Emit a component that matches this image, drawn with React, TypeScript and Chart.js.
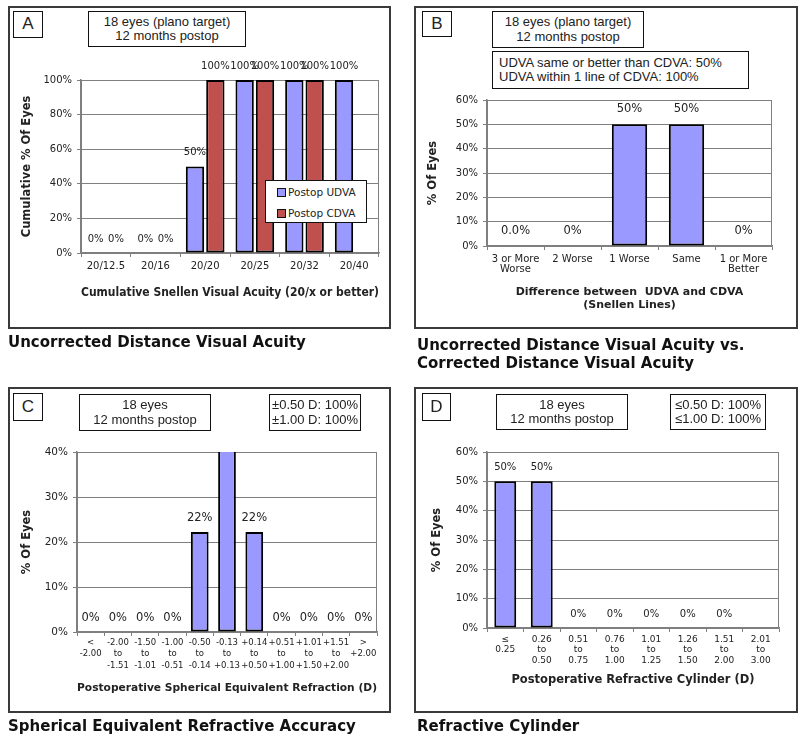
import React, { useEffect, useRef } from "react";
import { Chart, registerables } from "chart.js";
Chart.register(...registerables);

// ---------- DATA ----------
const aCategories = ["20/12.5", "20/16", "20/20", "20/25", "20/32", "20/40"];
const aUdva = [0, 0, 50, 100, 100, 100];
const aCdva = [0, 0, 100, 100, 100, null];
const aSeriesNames = ["Postop UDVA", "Postop CDVA"];

const bCategories = [["3 or More", "Worse"], "2 Worse", "1 Worse", "Same", ["1 or More", "Better"]];
const bValues = [0, 0, 50, 50, 0];
const bValueLabels = ["0.0%", "0%", "50%", "50%", "0%"];

const cCategories = [
  ["<", "-2.00"],
  ["-2.00", "to", "-1.51"],
  ["-1.50", "to", "-1.01"],
  ["-1.00", "to", "-0.51"],
  ["-0.50", "to", "-0.14"],
  ["-0.13", "to", "+0.13"],
  ["+0.14", "to", "+0.50"],
  ["+0.51", "to", "+1.00"],
  ["+1.01", "to", "+1.50"],
  ["+1.51", "to", "+2.00"],
  [">", "+2.00"],
];
const cValues = [0, 0, 0, 0, 22.2, 55.6, 22.2, 0, 0, 0, 0];

const dCategories = [
  ["≤", "0.25"],
  ["0.26", "to", "0.50"],
  ["0.51", "to", "0.75"],
  ["0.76", "to", "1.00"],
  ["1.01", "to", "1.25"],
  ["1.26", "to", "1.50"],
  ["1.51", "to", "2.00"],
  ["2.01", "to", "3.00"],
];
const dValues = [50, 50, 0, 0, 0, 0, 0, null];

// ---------- STYLE ----------
const BLUE = "#9999ff";
const RED = "#c0504d";
const GRID = "#7f7f7f";
const TEXT = "#222";
const VFONT = "DejaVu Sans, Verdana, sans-serif";
const AFONT = "Liberation Sans, Arial, sans-serif";
const W = 800;
const H = 742;

const framePlugin = {
  id: "plotFrame",
  beforeDatasetsDraw(chart: any) {
    const { ctx, chartArea: a } = chart;
    ctx.save();
    ctx.strokeStyle = GRID;
    ctx.lineWidth = 1;
    ctx.strokeRect(a.left + 0.5, a.top + 0.5, a.right - a.left - 1, a.bottom - a.top);
    ctx.restore();
  },
};

const valueLabelPlugin = {
  id: "valueLabels",
  afterDatasetsDraw(chart: any) {
    const { ctx } = chart;
    const o = chart.options.plugins.valueLabels || {};
    const yMax = chart.scales.y.max;
    ctx.save();
    ctx.font = `${o.size || 10}px ${VFONT}`;
    ctx.fillStyle = TEXT;
    ctx.textAlign = "center";
    ctx.textBaseline = "middle";
    chart.data.datasets.forEach((ds: any, di: number) => {
      const meta = chart.getDatasetMeta(di);
      meta.data.forEach((el: any, i: number) => {
        const v = ds.data[i];
        if (v == null || v > yMax) return;
        const t = ds.valueLabels ? ds.valueLabels[i] : Math.round(v) + "%";
        ctx.fillText(t, el.x, el.y - (o.offset || 14));
      });
    });
    ctx.restore();
  },
};

type Spec = {
  L: number; R: number; T: number; B: number;
  yTitleX: number; xTitleLastY: number;
  yTitle: string; xTitle: string | string[];
  xTitleSize: number; yTitleSize: number;
  yMax: number; step: number;
  labels: any[]; datasets: any[];
  tickSize: number; tickLH: number; tickPad: number;
  ySize: number;
  labelSize: number; labelOffset: number;
};

function buildChart(canvas: HTMLCanvasElement, s: Spec) {
  const yOff = (s.yTitleSize * 1.2) / 2 + 4;
  const yLeft = s.yTitleX - yOff;
  const yWidth = s.L - yLeft;
  const xOff = (s.xTitleSize * 1.2) / 2 + 4;
  const xBottom = s.xTitleLastY + xOff;
  const xHeight = xBottom - s.B;
  return new Chart(canvas, {
    type: "bar",
    data: { labels: s.labels, datasets: s.datasets },
    options: {
      animation: false,
      responsive: false,
      maintainAspectRatio: false,
      layout: { padding: { left: yLeft, top: s.T, right: W - s.R, bottom: H - xBottom } },
      plugins: {
        legend: { display: false },
        tooltip: { enabled: false },
        valueLabels: { size: s.labelSize, offset: s.labelOffset },
      } as any,
      scales: {
        x: {
          grid: { display: true, drawOnChartArea: false, tickLength: 4, color: GRID, offset: true },
          border: { display: true, color: GRID, width: 1.5 },
          ticks: {
            font: { family: VFONT, size: s.tickSize, lineHeight: s.tickLH },
            color: TEXT,
            padding: s.tickPad,
            maxRotation: 0,
            autoSkip: false,
          },
          title: {
            display: true,
            text: s.xTitle,
            color: TEXT,
            font: { family: VFONT, size: s.xTitleSize, weight: "bold", lineHeight: 1.2 },
          },
          afterFit: (sc: any) => { sc.height = xHeight; },
        },
        y: {
          min: 0,
          max: s.yMax,
          grid: { color: GRID, tickLength: 4, lineWidth: 1 },
          border: { display: true, color: GRID, width: 1.5 },
          ticks: {
            stepSize: s.step,
            callback: (v: any) => v + "%",
            font: { family: VFONT, size: s.ySize },
            color: TEXT,
            padding: 5,
          },
          title: {
            display: true,
            text: s.yTitle,
            color: TEXT,
            font: { family: VFONT, size: s.yTitleSize, weight: "bold", lineHeight: 1.2 },
          },
          afterFit: (sc: any) => { sc.width = yWidth; },
        },
      },
    } as any,
    plugins: [framePlugin, valueLabelPlugin],
  });
}

const barBase = { borderColor: "#000", borderWidth: 2, borderSkipped: false };

const specA: Spec = {
  L: 81, R: 379, T: 80, B: 253, yTitleX: 27, xTitleLastY: 293,
  yTitle: "Cumulative % Of Eyes",
  xTitle: "Cumulative Snellen Visual Acuity (20/x or better)",
  xTitleSize: 11.5, yTitleSize: 11.5, yMax: 100, step: 20,
  labels: aCategories,
  datasets: [
    { ...barBase, label: aSeriesNames[0], data: aUdva, backgroundColor: BLUE, categoryPercentage: 0.82, barPercentage: 0.9 },
    { ...barBase, label: aSeriesNames[1], data: aCdva, backgroundColor: RED, categoryPercentage: 0.82, barPercentage: 0.9 },
  ],
  tickSize: 10, tickLH: 1.2, tickPad: 3, ySize: 10, labelSize: 10, labelOffset: 14,
};

const specB: Spec = {
  L: 487, R: 772, T: 100, B: 246, yTitleX: 433, xTitleLastY: 305,
  yTitle: "% Of Eyes",
  xTitle: ["Difference between  UDVA and CDVA", "(Snellen Lines)"],
  xTitleSize: 11, yTitleSize: 11.5, yMax: 60, step: 10,
  labels: bCategories,
  datasets: [
    { ...barBase, label: "UDVA vs CDVA", data: bValues, valueLabels: bValueLabels, backgroundColor: BLUE, categoryPercentage: 1, barPercentage: 0.62 },
  ],
  tickSize: 10, tickLH: 1.0, tickPad: 4, ySize: 10, labelSize: 11.5, labelOffset: 15,
};

const specC: Spec = {
  L: 77, R: 377, T: 452, B: 632, yTitleX: 27, xTitleLastY: 688,
  yTitle: "% Of Eyes",
  xTitle: "Postoperative Spherical Equivalent Refraction (D)",
  xTitleSize: 11.3, yTitleSize: 11.5, yMax: 40, step: 10,
  labels: cCategories,
  datasets: [
    { ...barBase, label: "SE", data: cValues, backgroundColor: BLUE, categoryPercentage: 1, barPercentage: 0.65 },
  ],
  tickSize: 8.5, tickLH: 1.35, tickPad: 1, ySize: 10.5, labelSize: 11.5, labelOffset: 14,
};

const specD: Spec = {
  L: 487, R: 779, T: 452, B: 628, yTitleX: 437, xTitleLastY: 680,
  yTitle: "% Of Eyes",
  xTitle: "Postoperative Refractive Cylinder (D)",
  xTitleSize: 11.5, yTitleSize: 11.5, yMax: 60, step: 10,
  labels: dCategories,
  datasets: [
    { ...barBase, label: "Cyl", data: dValues, backgroundColor: BLUE, categoryPercentage: 1, barPercentage: 0.6 },
  ],
  tickSize: 9, tickLH: 1.17, tickPad: 2, ySize: 10, labelSize: 10, labelOffset: 14,
};

function ChartLayer({ spec }: { spec: Spec }) {
  const ref = useRef<HTMLCanvasElement>(null);
  useEffect(() => {
    const chart = buildChart(ref.current as HTMLCanvasElement, spec);
    return () => chart.destroy();
  }, []);
  return (
    <canvas
      ref={ref}
      width={W}
      height={H}
      style={{ position: "absolute", left: 0, top: 0, width: W, height: H, pointerEvents: "none" }}
    />
  );
}

function Box({ x, y, w, h, lines, size = 13, align = "center" }: any) {
  return (
    <div
      style={{
        position: "absolute", left: x, top: y, width: w, height: h,
        border: "1.5px solid #111", boxSizing: "border-box", background: "#fff",
        display: "flex", flexDirection: "column", justifyContent: "center",
        alignItems: align === "center" ? "center" : "flex-start",
        paddingLeft: align === "center" ? 0 : 6,
        fontFamily: AFONT, fontSize: size, lineHeight: "14.5px", color: TEXT, whiteSpace: "pre",
        zIndex: 3,
      }}
    >
      {lines.map((l: string, i: number) => <div key={i}>{l}</div>)}
    </div>
  );
}

function Frame({ x, y, w, h }: any) {
  return (
    <div style={{ position: "absolute", left: x, top: y, width: w, height: h, border: "2px solid #3a3a3a", boxSizing: "border-box" }} />
  );
}

function Caption({ x, y, lines }: any) {
  return (
    <div style={{ position: "absolute", left: x, top: y, fontFamily: VFONT, fontWeight: "bold", fontSize: 15, lineHeight: "17.5px", color: "#111", whiteSpace: "pre" }}>
      {lines.map((l: string, i: number) => <div key={i}>{l}</div>)}
    </div>
  );
}

function LegendA() {
  const items = [
    { name: aSeriesNames[0], color: BLUE },
    { name: aSeriesNames[1], color: RED },
  ];
  return (
    <div style={{ position: "absolute", left: 265, top: 180, width: 102, height: 43, border: "1.5px solid #111", boxSizing: "border-box", background: "#fff", zIndex: 3 }}>
      {items.map((it, i) => (
        <div key={i} style={{ position: "absolute", left: 11, top: 4 + i * 21, height: 14, display: "flex", alignItems: "center", fontFamily: VFONT, fontSize: 10.5, color: TEXT, whiteSpace: "pre" }}>
          <span style={{ display: "inline-block", width: 7, height: 7, background: it.color, border: "1px solid #111", marginRight: 2 }} />
          {it.name}
        </div>
      ))}
    </div>
  );
}

export default function App() {
  return (
    <div style={{ position: "absolute", left: 0, top: 0, width: W, height: H, background: "#fff", overflow: "hidden" }}>
      <Frame x={8} y={6} w={383} h={323} />
      <Frame x={414} y={6} w={384} h={323} />
      <Frame x={8} y={387} w={383} h={326} />
      <Frame x={414} y={387} w={384} h={326} />

      <ChartLayer spec={specA} />
      <ChartLayer spec={specB} />
      <ChartLayer spec={specC} />
      <ChartLayer spec={specD} />

      <Box x={13} y={11} w={30} h={27} lines={["A"]} size={17} />
      <Box x={88} y={11} w={158} h={36} lines={["18 eyes (plano target)", "12 months postop"]} />
      <LegendA />

      <Box x={422} y={11} w={30} h={26} lines={["B"]} size={17} />
      <Box x={492} y={11} w={152} h={37} lines={["18 eyes (plano target)", "12 months postop"]} />
      <Box x={492} y={51} w={257} h={38} lines={["UDVA same or better than CDVA: 50%", "UDVA within 1 line of CDVA: 100%"]} align="left" />

      <Box x={13} y={393} w={30} h={28} lines={["C"]} size={17} />
      <Box x={79} y={394} w={132} h={37} lines={["18 eyes", "12 months postop"]} />
      <Box x={269} y={394} w={92} h={37} lines={["±0.50 D: 100%", "±1.00 D: 100%"]} />

      <Box x={422} y={393} w={29} h={28} lines={["D"]} size={17} />
      <Box x={496} y={394} w={132} h={36} lines={["18 eyes", "12 months postop"]} />
      <Box x={670} y={394} w={96} h={36} lines={["≤0.50 D: 100%", "≤1.00 D: 100%"]} />

      <Caption x={8} y={334} lines={["Uncorrected Distance Visual Acuity"]} />
      <Caption x={417} y={337} lines={["Uncorrected Distance Visual Acuity vs.", "Corrected Distance Visual Acuity"]} />
      <Caption x={8} y={718} lines={["Spherical Equivalent Refractive Accuracy"]} />
      <Caption x={417} y={718} lines={["Refractive Cylinder"]} />
    </div>
  );
}
